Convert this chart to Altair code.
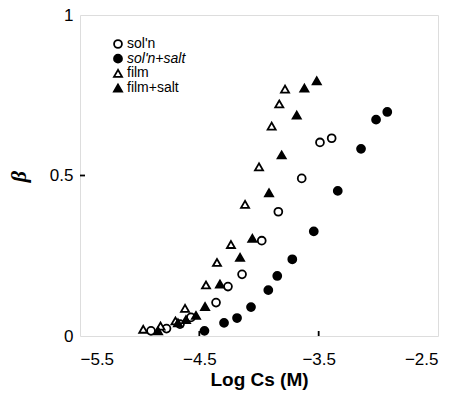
import altair as alt
import pandas as pd

series_names = ["sol'n", "sol'n+salt", "film", "film+salt"]

soln_x = [-4.905, -4.775, -4.662, -4.570, -4.360, -4.260, -4.142, -3.977, -3.838, -3.642, -3.489, -3.391]
soln_y = [0.016, 0.023, 0.037, 0.058, 0.104, 0.154, 0.192, 0.297, 0.387, 0.491, 0.603, 0.616]

solnsalt_x = [-4.457, -4.293, -4.184, -4.067, -3.922, -3.847, -3.721, -3.541, -3.340, -3.145, -3.019, -2.925]
solnsalt_y = [0.016, 0.041, 0.056, 0.090, 0.143, 0.187, 0.239, 0.326, 0.452, 0.583, 0.674, 0.698]

film_x = [-4.970, -4.825, -4.700, -4.620, -4.444, -4.352, -4.235, -4.117, -4.000, -3.894, -3.830, -3.782]
film_y = [0.021, 0.031, 0.047, 0.086, 0.159, 0.229, 0.285, 0.410, 0.527, 0.654, 0.723, 0.769]

filmsalt_x = [-4.846, -4.679, -4.612, -4.528, -4.452, -4.327, -4.159, -4.056, -3.916, -3.810, -3.684, -3.620, -3.516]
filmsalt_y = [0.016, 0.041, 0.051, 0.064, 0.092, 0.162, 0.245, 0.304, 0.446, 0.564, 0.688, 0.772, 0.795]

x_ticks = [-5.5, -4.5, -3.5, -2.5]
y_ticks = [0, 0.5, 1]

rows = []
for name, xs, ys in zip(series_names,
                        [soln_x, solnsalt_x, film_x, filmsalt_x],
                        [soln_y, solnsalt_y, film_y, filmsalt_y]):
    for xv, yv in zip(xs, ys):
        rows.append({"series": name, "logcs": xv, "beta": yv})
df = pd.DataFrame(rows)
legend_df = pd.DataFrame({"series": series_names})

W, H = 358, 321
FONT = "Liberation Sans"
SW = 1.8

xscale = alt.Scale(domain=[x_ticks[0], x_ticks[-1]], nice=False, zero=False)
yscale = alt.Scale(domain=[y_ticks[0], y_ticks[-1]], nice=False, zero=False)
shape_enc = alt.Shape("series:N", scale=alt.Scale(domain=series_names,
                      range=["circle", "circle", "triangle-up", "triangle-up"]), legend=None)
fill_enc = alt.Fill("series:N", scale=alt.Scale(domain=series_names,
                    range=["white", "black", "white", "black"]), legend=None)
size_enc = alt.Size("series:N", scale=alt.Scale(domain=series_names, range=[62, 66, 88, 88]), legend=None)

points = alt.Chart(df).mark_point(filled=True, stroke="black", strokeWidth=SW, opacity=1).encode(
    x=alt.X("logcs:Q", scale=xscale, axis=alt.Axis(
        values=x_ticks, format=".1f", title="Log Cs (M)", grid=False, domain=False, ticks=False,
        labelFont=FONT, labelFontSize=17, labelColor="black", labelPadding=28,
        labelBaseline="alphabetic",
        titleFont=FONT, titleFontSize=19, titleFontWeight="bold", titleColor="black",
        titleY=49, titleBaseline="alphabetic")),
    y=alt.Y("beta:Q", scale=yscale, axis=alt.Axis(
        values=y_ticks, format="~g", title="β", grid=False, domain=False, ticks=False,
        labelFont=FONT, labelFontSize=17, labelColor="black", labelPadding=7,
        titleFont="Liberation Serif", titleFontSize=22, titleFontStyle="italic", titleFontWeight="bold",
        titleColor="black", titleX=-62, titleY=161, titleAlign="center", titleBaseline="middle")),
    shape=shape_enc, fill=fill_enc, size=size_enc,
)

xt = pd.DataFrame({"v": x_ticks[1:-1]})
yt = pd.DataFrame({"v": y_ticks[1:-1]})

xtick_marks = alt.Chart(xt).mark_rule(color="black", strokeWidth=SW).encode(
    x=alt.X("v:Q", scale=xscale), y=alt.value(H), y2=alt.value(H - 5))
ytick_marks = alt.Chart(yt).mark_rule(color="black", strokeWidth=SW).encode(
    y=alt.Y("v:Q", scale=yscale), x=alt.value(0), x2=alt.value(5))

# manual legend (so that one label can be italic)
leg_y = alt.Y("series:N", scale=alt.Scale(domain=series_names, range=[29, 73], padding=0), axis=None)
leg_sym = alt.Chart(legend_df).mark_point(filled=True, stroke="black", strokeWidth=SW, opacity=1).encode(
    x=alt.value(38), y=leg_y, shape=shape_enc, fill=fill_enc, size=size_enc)
leg_txt = alt.Chart(legend_df).mark_text(
    align="left", baseline="middle", font=FONT, fontSize=14, color="black"
).encode(x=alt.value(47), y=leg_y, text="series:N").transform_filter(
    "datum.series !== \"sol'n+salt\"")
leg_txt_it = alt.Chart(legend_df).mark_text(
    align="left", baseline="middle", font=FONT, fontSize=14, color="black", fontStyle="italic"
).encode(x=alt.value(47), y=leg_y, text="series:N").transform_filter(
    "datum.series === \"sol'n+salt\"")
legend_layer = alt.layer(leg_sym, leg_txt, leg_txt_it)

chart = alt.layer(
    alt.layer(xtick_marks, ytick_marks, points),
    legend_layer,
).resolve_scale(y="independent").properties(
    width=W, height=H, autosize="none",
    padding={"left": 80, "top": 15, "right": 24, "bottom": 58},
).configure_view(stroke="black", strokeWidth=SW).configure(background="white")

chart.save("out.html", embed_options={"renderer": "svg", "actions": False})
